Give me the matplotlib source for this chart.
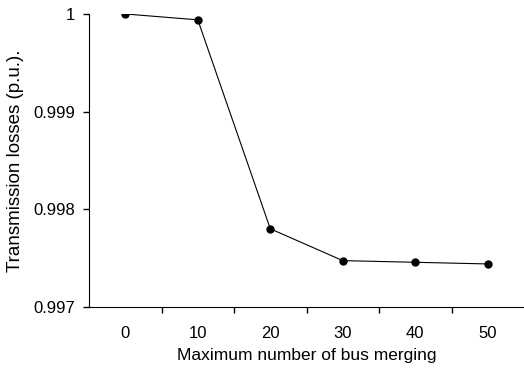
import matplotlib
matplotlib.use("Agg")
import matplotlib.pyplot as plt

plt.rcParams['font.family'] = ['Liberation Sans', 'DejaVu Sans']

merging = [0, 10, 20, 30, 40, 50]
losses = [1.0, 0.99994, 0.99780, 0.997474, 0.997457, 0.99744]
yticks = [0.997, 0.998, 0.999, 1.0]
ytick_labels = ['0.997', '0.998', '0.999', '1']

fig = plt.figure(figsize=(5.24, 3.68), dpi=100)
ax = fig.add_axes([0.170, 0.166, 0.830, 0.796])

pos = list(range(len(merging)))
ax.plot(pos, losses, color='black', lw=0.8, marker='o', markersize=5)

ax.set_xlim(-0.5, len(merging) - 0.5)
ax.set_ylim(0.997, 1.0)
ax.set_xticks(pos)
ax.set_xticklabels([str(m) for m in merging], fontsize=12)
ax.set_xticks([p + 0.5 for p in pos[:-1]], minor=True)
ax.tick_params(axis='x', which='major', length=0, pad=14)
ax.tick_params(axis='x', which='minor', length=4, direction='out', width=1)
ax.set_yticks(yticks)
ax.set_yticklabels(ytick_labels, fontsize=12)
ax.tick_params(axis='y', length=4, width=1, direction='out', pad=6)

ax.spines['top'].set_visible(False)
ax.spines['right'].set_visible(False)

ax.set_xlabel('Maximum number of bus merging', fontsize=12.5, labelpad=5)
ax.set_ylabel('Transmission losses (p.u.).', fontsize=13.5, labelpad=7)

fig.savefig('out.png', dpi=100)
